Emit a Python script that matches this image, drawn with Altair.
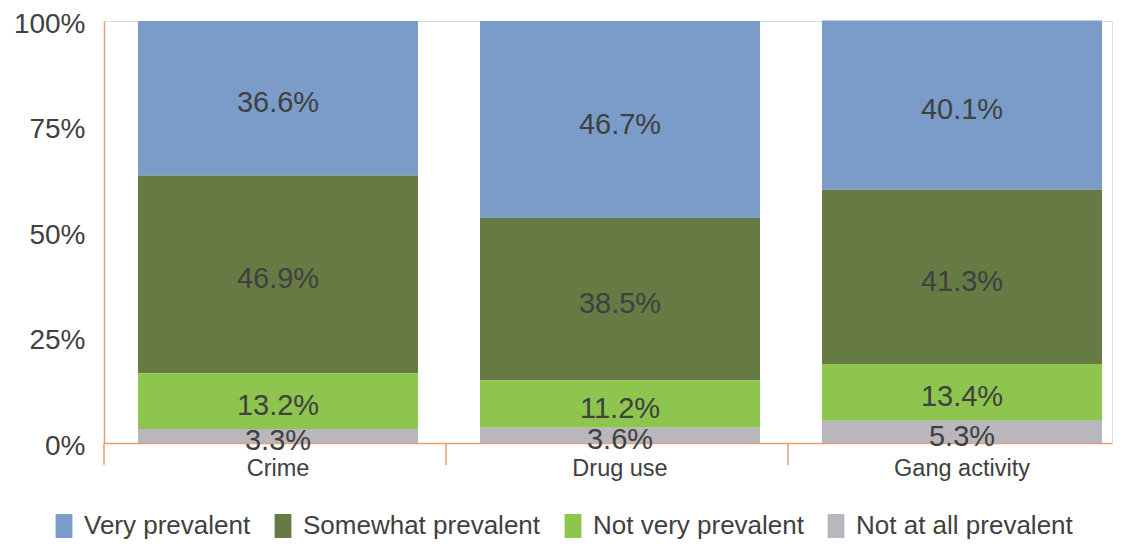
import altair as alt
import pandas as pd

categories = ["Crime", "Drug use", "Gang activity"]
series = ["Very prevalent", "Somewhat prevalent", "Not very prevalent", "Not at all prevalent"]
very = [36.6, 46.7, 40.1]
somewhat = [46.9, 38.5, 41.3]
not_very = [13.2, 11.2, 13.4]
not_at_all = [3.3, 3.6, 5.3]
colors = ["#7b9cc8", "#667a44", "#8dc54f", "#b9b7bd"]
y_ticks = [0, 25, 50, 75, 100]

ORANGE = "#e9a070"
TXT = "#404040"
FONT = "Liberation Sans"

rows = []
for s_i, (name, vals) in enumerate(zip(series, [very, somewhat, not_very, not_at_all])):
    for c, v in zip(categories, vals):
        rows.append({"cat": c, "series": name, "v": v, "ord": 3 - s_i})
df = pd.DataFrame(rows)
sep_df = pd.DataFrame({"cat": categories})

xscale = alt.Scale(paddingInner=0.1813, paddingOuter=0.0643, align=0.773)
yscale = alt.Scale(domain=[0, 100], nice=False)

xaxis = alt.Axis(title=None, labelAngle=0, ticks=False, domainColor=ORANGE, domainWidth=1.5,
                 labelFontSize=23.5, labelColor=TXT, labelPadding=13, labelFont=FONT)
yaxis = alt.Axis(title=None, values=y_ticks, labelExpr="datum.value + '%'", ticks=False, grid=False,
                 domainColor=ORANGE, domainWidth=1.5, labelFontSize=28, labelPadding=19,
                 labelOffset=3, labelColor=TXT, labelFont=FONT)

base = alt.Chart(df).transform_stack(
    stack="v", groupby=["cat"], as_=["y0", "y1"], sort=[alt.SortField("ord", order="ascending")]
).transform_calculate(
    mid="(datum.y0 + datum.y1) / 2", label="format(datum.v, '.1f') + '%'"
)

bars = base.mark_bar().encode(
    x=alt.X("cat:N", sort=categories, scale=xscale, axis=xaxis),
    y=alt.Y("y0:Q", scale=yscale, axis=yaxis),
    y2="y1:Q",
    color=alt.Color(
        "series:N", sort=series, scale=alt.Scale(domain=series, range=colors),
        legend=alt.Legend(
            title=None, orient="none", legendX=-53, legendY=492, direction="horizontal",
            symbolType="M-0.7,-1H0.7V1H-0.7Z", symbolSize=576, symbolStrokeWidth=0,
            symbolOpacity=1, labelFontSize=26, labelColor=TXT, labelFont=FONT,
            labelOffset=7, columnPadding=19, labelLimit=500,
        ),
    ),
)

labels = base.mark_text(fontSize=29, color=TXT, font=FONT, baseline="middle", dy=5).encode(
    x=alt.X("cat:N", sort=categories, scale=xscale, axis=xaxis),
    y=alt.Y("mid:Q", scale=yscale, axis=yaxis),
    text="label:N",
)

seps = alt.Chart(sep_df).mark_rule(color=ORANGE, strokeWidth=1.5, xOffset=-34).encode(
    x=alt.X("cat:N", sort=categories, scale=xscale, axis=xaxis, bandPosition=0),
    y=alt.value(422),
    y2=alt.value(444),
)

chart = alt.layer(bars, labels, seps).properties(
    width=1008, height=422, autosize="none",
    padding={"left": 96, "top": 13, "right": 2, "bottom": 97},
    background="white",
).configure_view(stroke=None).configure(font=FONT)

chart.save("out.html", embed_options={"renderer": "svg", "actions": False})
